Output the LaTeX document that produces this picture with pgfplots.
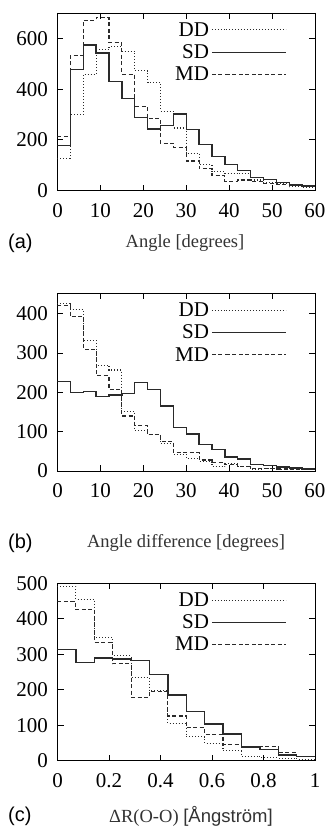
\documentclass[border=0pt]{standalone}
\usepackage{pgfplots}
\pgfplotsset{compat=1.18}
\usepackage{fontspec}
\setmainfont{Liberation Serif}
\newfontfamily\arial{Liberation Sans}
\definecolor{ln}{HTML}{2A2A2A}
\pgfplotsset{
  hist/.style={
    scale only axis, width=257.5pt,
    anchor=south west,
    axis line style={line width=0.9pt, black},
    tick style={line width=0.9pt, black},
    major tick length=6pt,
    tick align=inside,
    xtick pos=both, ytick pos=both,
    ymin=0,
    /pgf/number format/assume math mode=true,
    tick label style={font=\fontsize{21}{22}\selectfont},
    xticklabel style={yshift=-9pt},
    yticklabel style={xshift=-6pt},
    legend style={draw=none, fill=none, at={(rel axis cs:0.89,0.96)}, anchor=north east,
      font=\fontsize{21}{22}\selectfont, legend cell align=right, row sep=3pt, inner sep=0pt},
    legend plot pos=right,
    legend image code/.code={\path (0pt,0pt) -- (14pt,0pt); \draw[#1] (14pt,0pt) -- (74pt,0pt);},
  },
  dd/.style={ln, line width=1.1pt, dash pattern=on 0.9pt off 2.1pt, const plot mark left},
  sd/.style={ln, line width=1.4pt, solid, const plot mark left},
  md/.style={ln, line width=1.1pt, dash pattern=on 4pt off 2.5pt, const plot mark left},
}
\begin{document}
\begin{tikzpicture}[x=1pt,y=1pt]
% ---------------- (a)
\begin{axis}[hist, at={(57.5pt,636.3pt)}, height=177.7pt,
  xmin=0, xmax=60, ymax=700, xtick={0,10,...,60}, ytick={0,200,400,600}]
\addplot[dd] coordinates {(0,128)(3,299)(6,458)(9,556)(12,567)(15,550)(18,473)(21,425)(24,313)(27,247)(30,148)(33,102)(36,75)(39,69)(42,66)(45,42)(48,32)(51,29)(54,16)(57,12)(60,12)};
\addlegendentry{DD}
\addplot[sd] coordinates {(0,178)(3,477)(6,574)(9,543)(12,431)(15,363)(18,289)(21,243)(24,256)(27,302)(30,240)(33,183)(36,134)(39,104)(42,79)(45,53)(48,45)(51,33)(54,22)(57,18)(60,18)};
\addlegendentry{SD}
\addplot[md] coordinates {(0,212)(3,533)(6,671)(9,682)(12,583)(15,459)(18,332)(21,283)(24,187)(27,171)(30,117)(33,86)(36,59)(39,36)(42,42)(45,36)(48,29)(51,26)(54,22)(57,16)(60,16)};
\addlegendentry{MD}
\end{axis}
% ---------------- (b)
\begin{axis}[hist, at={(57.5pt,356pt)}, height=177.7pt,
  xmin=0, xmax=60, ymax=452, xtick={0,10,...,60}, ytick={0,100,...,400}]
\addplot[dd] coordinates {(0,425)(3,410)(6,333)(9,268)(12,257)(15,151)(18,104)(21,92)(24,70)(27,42)(30,32)(33,24)(36,11)(39,18)(42,11)(45,4)(48,6)(51,4)(54,4)(57,3)(60,3)};
\addlegendentry{DD}
\addplot[sd] coordinates {(0,227)(3,200)(6,202)(9,189)(12,193)(15,197)(18,225)(21,208)(24,165)(27,110)(30,94)(33,68)(36,55)(39,36)(42,31)(45,17)(48,14)(51,10)(54,8)(57,5)(60,5)};
\addlegendentry{SD}
\addplot[md] coordinates {(0,422)(3,392)(6,310)(9,242)(12,208)(15,140)(18,115)(21,92)(24,75)(27,47)(30,47)(33,28)(36,22)(39,17)(42,11)(45,7)(48,7)(51,5)(54,4)(57,3)(60,3)};
\addlegendentry{MD}
\end{axis}
% ---------------- (c)
\begin{axis}[hist, at={(57.5pt,66.3pt)}, height=177.4pt,
  xmin=0, xmax=1, ymax=500, xtick={0,0.2,...,1}, xticklabels={0,0.2,0.4,0.6,0.8,1}, ytick={0,100,...,500}]
\addplot[dd] coordinates {(0,491)(0.0714,455)(0.1429,347)(0.2143,296)(0.2857,235)(0.3571,197)(0.4286,105)(0.5,68)(0.5714,49)(0.6429,28)(0.7143,13)(0.7857,9)(0.8571,7)(0.9286,4)(1,4)};
\addlegendentry{DD}
\addplot[sd] coordinates {(0,314)(0.0714,276)(0.1429,289)(0.2143,287)(0.2857,282)(0.3571,243)(0.4286,185)(0.5,138)(0.5714,103)(0.6429,75)(0.7143,39)(0.7857,32)(0.8571,16)(0.9286,11)(1,11)};
\addlegendentry{SD}
\addplot[md] coordinates {(0,448)(0.0714,425)(0.1429,333)(0.2143,273)(0.2857,179)(0.3571,195)(0.4286,126)(0.5,93)(0.5714,73)(0.6429,45)(0.7143,39)(0.7857,39)(0.8571,23)(0.9286,11)(1,11)};
\addlegendentry{MD}
\end{axis}
% ---------------- labels
\node[anchor=west, inner sep=0pt, font=\arial\fontsize{20}{22}\selectfont] at (8pt,584pt) {(a)};
\node[inner sep=0pt, font=\fontsize{18.5}{22}\selectfont, text=black!80] at (185pt,584pt) {Angle [degrees]};
\node[anchor=west, inner sep=0pt, font=\arial\fontsize{20}{22}\selectfont] at (8pt,284pt) {(b)};
\node[inner sep=0pt, font=\fontsize{18.5}{22}\selectfont, text=black!80] at (186pt,284pt) {Angle difference [degrees]};
\node[anchor=west, inner sep=0pt, font=\arial\fontsize{20}{22}\selectfont] at (8pt,11pt) {(c)};
\node[inner sep=0pt, font=\fontsize{18.5}{22}\selectfont, text=black!80] at (191pt,11pt) {ΔR(O-O) {\arial[Ångström]}};
\pgfresetboundingbox
\path[use as bounding box] (0,0) rectangle (331pt,827pt);
\end{tikzpicture}
\end{document}
